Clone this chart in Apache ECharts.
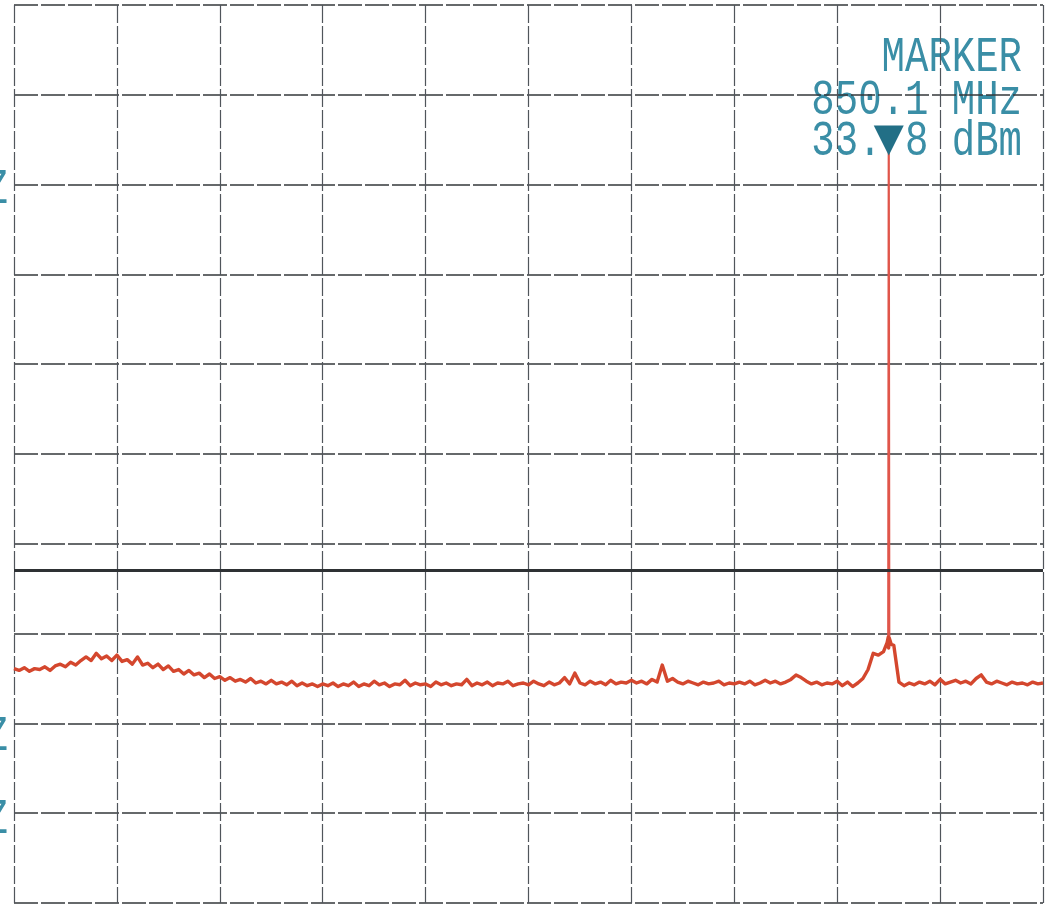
<!DOCTYPE html>
<html>
<head>
<meta charset="utf-8">
<script src="https://cdn.jsdelivr.net/npm/echarts@6/dist/echarts.min.js"></script>
<style>
html,body{margin:0;padding:0;background:#fff;}
#chart{width:1049px;height:906px;}
</style>
</head>
<body>
<div id="chart"></div>
<script>
// Frequency axis (MHz) and level axis (dBm)
const freqStart = 0, freqStep = 5;
const xTicks = [0,100,200,300,400,500,600,700,800,900,1000];
const yTicks = [-50,-40,-30,-20,-10,0,10,20,30,40,50];
// Trace levels (dBm) every 5 MHz from 0 to 1000 MHz
const levels = [
  -23.9,-24.1,-23.8,-24.2,-23.9,-24.0,-23.7,-24.1,-23.6,-23.4, // 0-45
  -23.7,-23.2,-23.5,-23.0,-22.6,-23.0,-22.2,-22.8,-22.5,-23.0, // 50-95
  -22.4,-23.1,-22.9,-23.4,-22.6,-23.5,-23.3,-23.8,-23.4,-24.0, // 100-145
  -23.6,-24.2,-24.0,-24.5,-24.1,-24.6,-24.4,-24.9,-24.5,-25.0, // 150-195
  -24.8,-25.2,-24.9,-25.3,-25.1,-25.4,-25.0,-25.5,-25.3,-25.6, // 200-245
  -25.2,-25.6,-25.4,-25.7,-25.3,-25.8,-25.5,-25.8,-25.6,-25.9, // 250-295
  -25.6,-25.8,-25.5,-25.9,-25.6,-25.8,-25.4,-25.9,-25.6,-25.8, // 300-345
  -25.3,-25.7,-25.5,-25.9,-25.6,-25.7,-25.2,-25.8,-25.5,-25.7, // 350-395
  -25.6,-25.9,-25.4,-25.7,-25.5,-25.8,-25.6,-25.7,-25.1,-25.8, // 400-445
  -25.5,-25.7,-25.4,-25.8,-25.5,-25.6,-25.3,-25.8,-25.6,-25.5, // 450-495
  -25.7,-25.3,-25.6,-25.8,-25.4,-25.7,-25.5,-24.9,-25.6,-24.4, // 500-545
  -25.5,-25.7,-25.3,-25.6,-25.4,-25.7,-25.2,-25.6,-25.4,-25.5, // 550-595
  -25.2,-25.5,-25.3,-25.6,-25.1,-25.4,-23.5,-25.3,-25.0,-25.4, // 600-645
  -25.6,-25.3,-25.5,-25.7,-25.4,-25.6,-25.5,-25.3,-25.7,-25.5, // 650-695
  -25.6,-25.4,-25.6,-25.3,-25.7,-25.5,-25.2,-25.5,-25.3,-25.6, // 700-745
  -25.4,-25.1,-24.6,-24.9,-25.3,-25.6,-25.4,-25.7,-25.5,-25.6, // 750-795
  -25.3,-25.8,-25.4,-25.9,-25.5,-25.0,-24.0,-22.2,-22.4,-22.0, // 800-845
  -21.6,-21.3,-25.4,-25.8,-25.5,-25.7,-25.4,-25.6,-25.3,-25.7, // 850-895
  -25.1,-25.6,-25.4,-25.2,-25.5,-25.3,-25.6,-25.0,-24.6,-25.4, // 900-945
  -25.6,-25.3,-25.5,-25.7,-25.4,-25.6,-25.5,-25.7,-25.4,-25.6, // 950-995
  -25.5                                                        // 1000
];
// Carrier skirt and spike near the marker
const skirtFreqs = [848.5, 849.6, 850.6, 852.5];
const skirtLevels = [-21.0, -20.4, -20.5, -21.2];
const spikeFreqs = [849.6, 850.1, 850.6];
const spikeLevels = [-20.4, 33.8, -20.5];
const markerFreq = 850.1, markerLevel = 33.8;
const displayLine = -12.9;
const markerText = ['MARKER', '850.1 MHz', '33. 8 dBm'];

const pts = [];
levels.forEach((v, i) => pts.push([freqStart + i * freqStep, v]));
skirtFreqs.forEach((f, i) => pts.push([f, skirtLevels[i]]));
pts.sort((a, b) => a[0] - b[0]);
const spike = spikeFreqs.map((f, i) => [f, spikeLevels[i]]);

const teal = '#3a8ea6';
const txt = (s, x, y) => ({type: 'text', x: x, y: y, scaleX: 1, scaleY: 1.3,
  style: {text: s, font: '39px "Liberation Mono"', fill: teal, textAlign: 'right', textVerticalAlign: 'middle'}});
const chart = echarts.init(document.getElementById('chart'));
chart.setOption({
  backgroundColor: '#ffffff',
  animation: false,
  grid: {left: 14, right: 6, top: 5, bottom: 3},
  xAxis: {
    type: 'value', min: xTicks[0], max: xTicks[xTicks.length - 1], interval: 100,
    axisLabel: {show: false}, axisTick: {show: false},
    axisLine: {show: false},
    splitLine: {show: true, lineStyle: {color: '#50555b', width: 1.2, type: [18, 3]}}
  },
  yAxis: {
    type: 'value', min: yTicks[0], max: yTicks[yTicks.length - 1], interval: 10,
    axisLabel: {show: false}, axisTick: {show: false},
    axisLine: {show: false},
    splitLine: {show: true, lineStyle: {color: '#35383b', width: 1.7, type: [24, 3]}}
  },
  series: [{
    type: 'line',
    data: pts,
    showSymbol: false,
    symbol: 'none',
    z: 3,
    lineStyle: {color: '#d4472e', width: 3.4, join: 'round'},
    markLine: {
      silent: true, symbol: 'none', label: {show: false},
      lineStyle: {color: '#2e3134', width: 3, type: 'solid'},
      data: [{yAxis: displayLine}]
    }
  }, {
    type: 'line',
    data: spike,
    showSymbol: false,
    symbol: 'none',
    z: 2,
    lineStyle: {color: '#e0554a', width: 2.2},
    markPoint: {
      silent: true,
      data: [{coord: [markerFreq, markerLevel]}],
      symbol: 'triangle', symbolRotate: 180, symbolSize: [30, 30], symbolOffset: [0, -10],
      itemStyle: {color: '#226f86'},
      label: {show: false}
    }
  }],
  graphic: [
    txt(markerText[0], 1022, 58),
    txt(markerText[1], 1022, 101),
    txt(markerText[2], 1022, 142),
    txt('Z', 8, 190),
    txt('Z', 8, 737),
    txt('Z', 8, 820)
  ]
});
</script>
</body>
</html>
